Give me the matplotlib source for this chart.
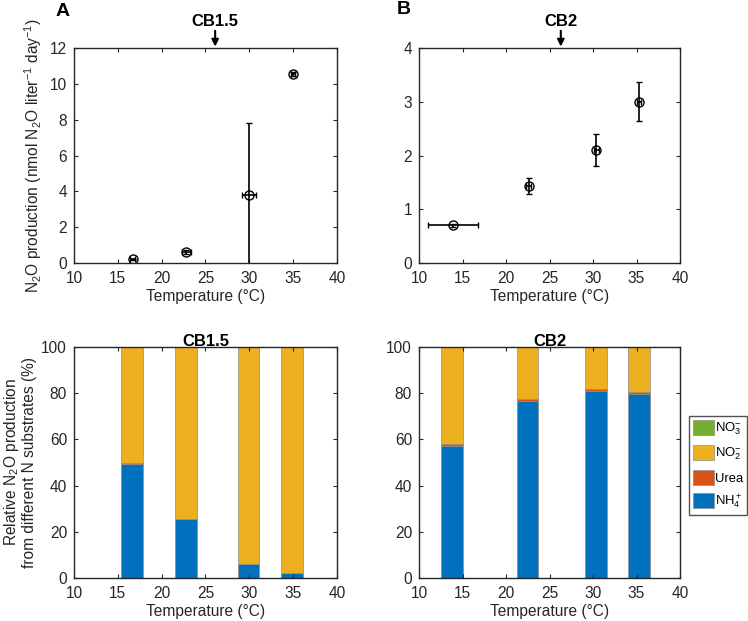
import numpy as np
import matplotlib.pyplot as plt
from matplotlib.patches import Patch

plt.rcParams['font.family'] = ['Liberation Sans', 'DejaVu Sans']
plt.rcParams['mathtext.fontset'] = 'custom'
plt.rcParams['mathtext.rm'] = 'Liberation Sans'
plt.rcParams['mathtext.it'] = 'Liberation Sans'
plt.rcParams['font.size'] = 11.2

# N2O production vs temperature, CB1.5
cb15_temp = [16.7, 22.8, 30.0, 35.0]
cb15_temp_err = [0.3, 0.5, 0.8, 0.2]
cb15_rate = [0.2, 0.6, 3.8, 10.55]
cb15_rate_err = [0.05, 0.1, 4.0, 0.1]

# N2O production vs temperature, CB2
cb2_temp = [13.9, 22.6, 30.4, 35.3]
cb2_temp_err = [2.9, 0.3, 0.3, 0.2]
cb2_rate = [0.7, 1.43, 2.1, 3.0]
cb2_rate_err = [0.03, 0.15, 0.3, 0.36]

# relative contribution of substrates (%)
substrates = ['NH$_4^+$', 'Urea', 'NO$_2^{-}$', 'NO$_3^{-}$']
cb15_bar_x = [16.6, 22.8, 29.9, 34.85]
cb15_nh4 = [49.5, 25.5, 6.0, 2.0]
cb15_urea = [0.3, 0.2, 0.1, 0.1]
cb15_no3 = [0.0, 0.0, 0.0, 0.0]
cb2_bar_x = [13.8, 22.5, 30.35, 35.3]
cb2_nh4 = [57.2, 76.8, 80.8, 79.8]
cb2_urea = [0.8, 0.7, 1.0, 0.9]
cb2_no3 = [0.0, 0.0, 0.0, 0.0]

colors = ['#0072BD', '#D95319', '#EDB120', '#77AC30']
txt = '#262626'

fig = plt.figure(figsize=(7.48, 6.21), dpi=100)
W, H = 748, 621


def add_ax(l, t, r, b):
    return fig.add_axes([l / W, 1 - b / H, (r - l) / W, (b - t) / H])


def style(ax, ymax, ystep):
    ax.set_xlim(10, 40)
    ax.set_ylim(0, ymax)
    ax.set_xticks(np.arange(10, 41, 5))
    ax.set_yticks(np.arange(0, ymax + 0.01, ystep))
    ax.tick_params(direction='in', top=True, right=True, length=3,
                   width=0.8, colors=txt, labelsize=11.2)
    ax.tick_params(axis='x', pad=6)
    ax.tick_params(axis='y', pad=5)
    for s in ax.spines.values():
        s.set_linewidth(1.0)
        s.set_color(txt)
    ax.set_xlabel('Temperature (°C)', color=txt, labelpad=2)


axA = add_ax(74, 48, 337, 263)
axB = add_ax(419, 48, 680, 263)
axC = add_ax(74, 347, 337, 578)
axD = add_ax(419, 347, 680, 578)

for ax, x, xe, y, ye, ymax, ystep, site, arrow_x in [
        (axA, cb15_temp, cb15_temp_err, cb15_rate, cb15_rate_err, 12, 2, 'CB1.5', 26.1),
        (axB, cb2_temp, cb2_temp_err, cb2_rate, cb2_rate_err, 4, 1, 'CB2', 26.3)]:
    ax.errorbar(x, y, xerr=xe, yerr=ye, fmt='o', mfc='none', mec='black',
                ms=6.5, mew=1.0, ecolor='black', elinewidth=1.2, capsize=2,
                capthick=1.0)
    style(ax, ymax, ystep)
    ax.annotate('', xy=(arrow_x, ymax), xytext=(arrow_x, ymax * 1.08),
                xycoords='data', annotation_clip=False,
                arrowprops=dict(arrowstyle='-|>', color='black', lw=1.5,
                                mutation_scale=10, shrinkA=0, shrinkB=1))
    ax.text(arrow_x, ymax * 1.09, site, ha='center', va='bottom',
            fontweight='bold', fontsize=12, color='black')

axA.set_ylabel('N$_2$O production (nmol N$_2$O liter$^{-1}$ day$^{-1}$)',
               color=txt, labelpad=4)

for ax, bx, nh4, urea, no3, site in [
        (axC, cb15_bar_x, cb15_nh4, cb15_urea, cb15_no3, 'CB1.5'),
        (axD, cb2_bar_x, cb2_nh4, cb2_urea, cb2_no3, 'CB2')]:
    nh4 = np.array(nh4)
    urea = np.array(urea)
    no3 = np.array(no3)
    no2 = 100 - nh4 - urea - no3
    bottom = np.zeros(len(bx))
    for vals, c in zip([nh4, urea, no2, no3], colors):
        ax.bar(bx, vals, width=2.45, bottom=bottom, color=c,
               edgecolor='#8c8c8c', linewidth=0.5)
        bottom = bottom + vals
    style(ax, 100, 20)
    ax.set_title(site, fontweight='bold', fontsize=12, color='black', pad=1)

axC.set_ylabel('Relative N$_2$O production\nfrom different N substrates (%)',
               color=txt, labelpad=3, linespacing=1.1)

handles = [Patch(facecolor=c, edgecolor='#8c8c8c', linewidth=0.5, label=l)
           for c, l in zip(colors, substrates)][::-1]
fig.legend(handles=handles, loc='upper right',
           bbox_to_anchor=(747 / W, 1 - 416 / H), frameon=True,
           fancybox=False, edgecolor=txt, handlelength=1.6, handleheight=1.35,
           handletextpad=0.1, borderpad=0.3, labelspacing=0.6,
           borderaxespad=0, fontsize=9.4)

fig.text(56 / W, 1 - 11 / H, 'A', fontweight='bold', fontsize=14,
         va='center', ha='left')
fig.text(397 / W, 1 - 9 / H, 'B', fontweight='bold', fontsize=14,
         va='center', ha='left')

fig.savefig('out.png', dpi=100)
